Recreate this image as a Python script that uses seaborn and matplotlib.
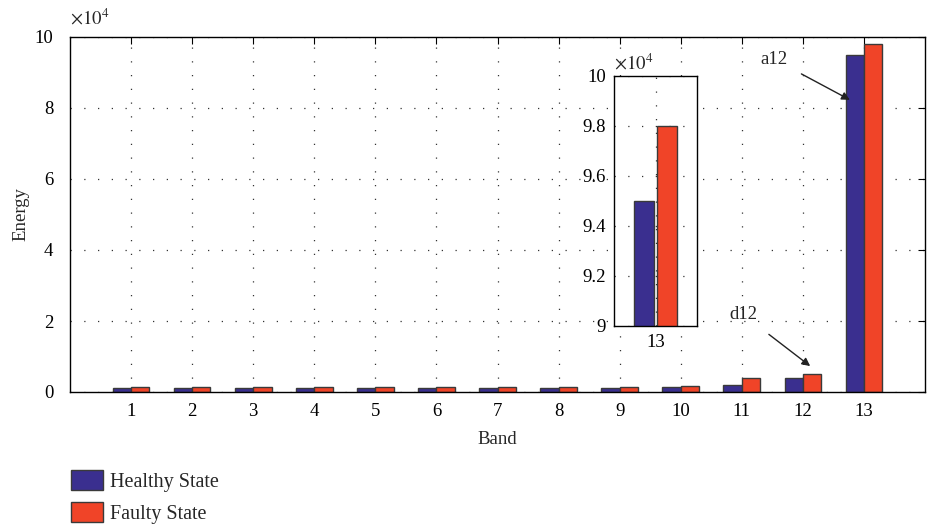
import numpy as np
import pandas as pd
import matplotlib
matplotlib.use("Agg")
import matplotlib.pyplot as plt
import seaborn as sns
from matplotlib.patches import Patch
from matplotlib.ticker import FuncFormatter, MultipleLocator

bands = [str(i) for i in range(1, 14)]
healthy = [1100, 1100, 1100, 1100, 1100, 1100, 1100, 1100, 1100, 1500, 2000, 4000, 95000]
faulty = [1500, 1500, 1500, 1500, 1500, 1500, 1500, 1500, 1500, 1800, 3900, 5000, 98000]
states = ["Healthy State", "Faulty State"]
colors = ["#3a2f8f", "#f04428"]

df = pd.DataFrame({
    "Band": bands * 2,
    "Energy": healthy + faulty,
    "State": [states[0]] * 13 + [states[1]] * 13,
})

sns.set_theme(style="white")
plt.rcParams["font.family"] = ["Liberation Serif", "DejaVu Serif"]
plt.rcParams["mathtext.fontset"] = "stix"

FS = 13.5
fig = plt.figure(figsize=(9.27, 5.25), dpi=100)
ax = fig.add_axes([70 / 927, 133 / 525, 855 / 927, 355 / 525])

sns.barplot(data=df, x="Band", y="Energy", hue="State", palette=colors,
            width=0.6, edgecolor="#3a3a3a", linewidth=1.0, saturation=1,
            legend=False, ax=ax)

def style_axes(a, fs=FS, pad=8):
    for s in a.spines.values():
        s.set_color("black")
        s.set_linewidth(1.0)
    a.tick_params(direction="in", length=5, width=0.8, colors="black",
                  top=True, right=True, labelsize=fs, pad=pad)
    a.grid(True, linestyle=(0, (1, 10)), color="#333333", linewidth=0.9)
    a.set_axisbelow(True)

ax.set_xlim(-1, 13)
ax.set_ylim(0, 100000)
ax.yaxis.set_major_locator(MultipleLocator(20000))
ax.yaxis.set_major_formatter(FuncFormatter(lambda v, p: f"{v/1e4:g}"))
style_axes(ax)
ax.tick_params(axis="y", pad=12)
ax.set_xlabel("Band", fontsize=FS, labelpad=8)
ax.set_ylabel("Energy", fontsize=FS, labelpad=4)
ax.text(0.0, 1.025, r"$\times10^4$", transform=ax.transAxes, fontsize=FS,
        ha="left", va="bottom")

# annotations
ax.annotate("a12", xy=(11.77, 82300), xytext=(10.52, 93800), fontsize=FS,
            ha="center", va="center",
            arrowprops=dict(arrowstyle="-|>", color="#222222", lw=1.0,
                            shrinkA=9, shrinkB=0, mutation_scale=12))
ax.annotate("d12", xy=(11.12, 7300), xytext=(10.03, 21700), fontsize=FS,
            ha="center", va="center",
            arrowprops=dict(arrowstyle="-|>", color="#222222", lw=1.0,
                            shrinkA=9, shrinkB=0, mutation_scale=12))

# inset
df13 = df[df["Band"] == "13"]
axi = fig.add_axes([614 / 927, 199 / 525, 83 / 927, 250 / 525])
sns.barplot(data=df13, x="Band", y="Energy", hue="State", palette=colors,
            width=0.68, gap=0.15, edgecolor="#3a3a3a", linewidth=1.0,
            saturation=1, legend=False, ax=axi)
axi.set_xlim(-0.6, 0.6)
axi.set_ylim(90000, 100000)
axi.yaxis.set_major_locator(MultipleLocator(2000))
axi.yaxis.set_major_formatter(FuncFormatter(lambda v, p: f"{v/1e4:g}"))
style_axes(axi, pad=6)
axi.tick_params(top=False, right=False)
axi.set_xlabel("")
axi.set_ylabel("")
axi.text(0.0, 1.01, r"$\times10^4$", transform=axi.transAxes, fontsize=FS,
         ha="left", va="bottom")

handles = [Patch(facecolor=c, edgecolor="#3a3a3a", linewidth=1.0) for c in colors]
fig.legend(handles, states, loc="upper left",
           bbox_to_anchor=(71 / 927, 1 - 470 / 525), frameon=False,
           fontsize=14.5, handlelength=1.6, handleheight=1.15,
           labelspacing=0.5, handletextpad=0.35, borderpad=0,
           borderaxespad=0)

fig.savefig("out.png", dpi=100)
